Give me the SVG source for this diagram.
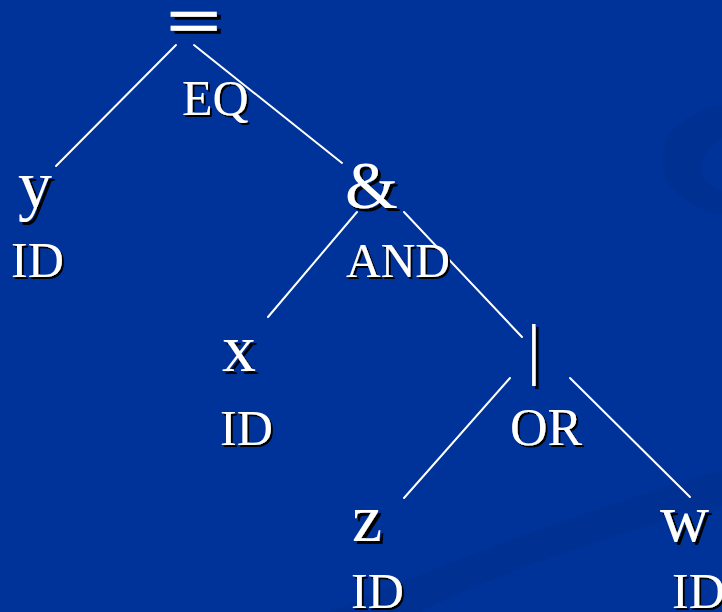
<svg xmlns="http://www.w3.org/2000/svg" width="722" height="612" viewBox="0 0 722 612">
  <defs>
    <filter id="shadowBig" x="-20%" y="-20%" width="150%" height="150%">
      <feDropShadow dx="3" dy="3" stdDeviation="0" flood-color="#000000" flood-opacity="1"/>
    </filter>
    <filter id="shadowSmall" x="-20%" y="-20%" width="150%" height="150%">
      <feDropShadow dx="2" dy="2" stdDeviation="0" flood-color="#000000" flood-opacity="1"/>
    </filter>
  </defs>
  <style>
    .sym { font-family: "Liberation Serif", "Times New Roman", serif; font-size: 68px; fill: #ffffff; filter: url(#shadowBig); }
    .tag { font-family: "Liberation Serif", "Times New Roman", serif; font-size: 50px; fill: #ffffff; filter: url(#shadowSmall); }
    .edge { stroke: #ffffff; stroke-width: 2; stroke-linecap: round; fill: none; }
  </style>

  <!-- background with faint decorative swooshes -->
  <rect x="0" y="0" width="722" height="612" fill="#003399"/>
  <path d="M722,105 C690,110 662,130 662,160 C662,190 690,208 722,215 L722,190 C705,185 695,172 705,155 C712,145 718,140 722,138 Z" fill="#003192"/>
  <path d="M330,612 C450,560 600,505 722,470 L722,505 C610,535 500,572 420,612 Z" fill="#003192"/>

  <!-- connectors -->
  <g id="edges">
    <line class="edge" x1="176" y1="45" x2="56" y2="166"/>
    <line class="edge" x1="194" y1="45" x2="342" y2="163"/>
    <line class="edge" x1="357" y1="212" x2="268" y2="317"/>
    <line class="edge" x1="404" y1="212" x2="522" y2="337"/>
    <line class="edge" x1="510" y1="378" x2="404" y2="498"/>
    <line class="edge" x1="570" y1="378" x2="690" y2="497"/>
  </g>

  <!-- nodes: symbol with token kind below -->
  <g id="node-eq">
    <text class="sym" transform="translate(167,45) scale(1.35,1)" x="0" y="0" style="font-size:70px;stroke:#ffffff;stroke-width:1.6">=</text>
    <text class="tag" x="182" y="115">EQ</text>
  </g>
  <g id="node-y">
    <text class="sym" x="18" y="208">y</text>
    <text class="tag" x="11" y="277">ID</text>
  </g>
  <g id="node-and">
    <text class="sym" x="345" y="208">&amp;</text>
    <text class="tag" x="346" y="277" style="font-size:48px">AND</text>
  </g>
  <g id="node-x">
    <text class="sym" x="222" y="371">x</text>
    <text class="tag" x="220" y="445">ID</text>
  </g>
  <g id="node-or">
    <text class="sym" x="527" y="372">|</text>
    <text class="tag" x="510" y="445" style="font-size:52px">OR</text>
  </g>
  <g id="node-z">
    <text class="sym" x="352" y="541">z</text>
    <text class="tag" x="351" y="608">ID</text>
  </g>
  <g id="node-w">
    <text class="sym" x="660" y="541">w</text>
    <text class="tag" x="672" y="608">ID</text>
  </g>
</svg>
